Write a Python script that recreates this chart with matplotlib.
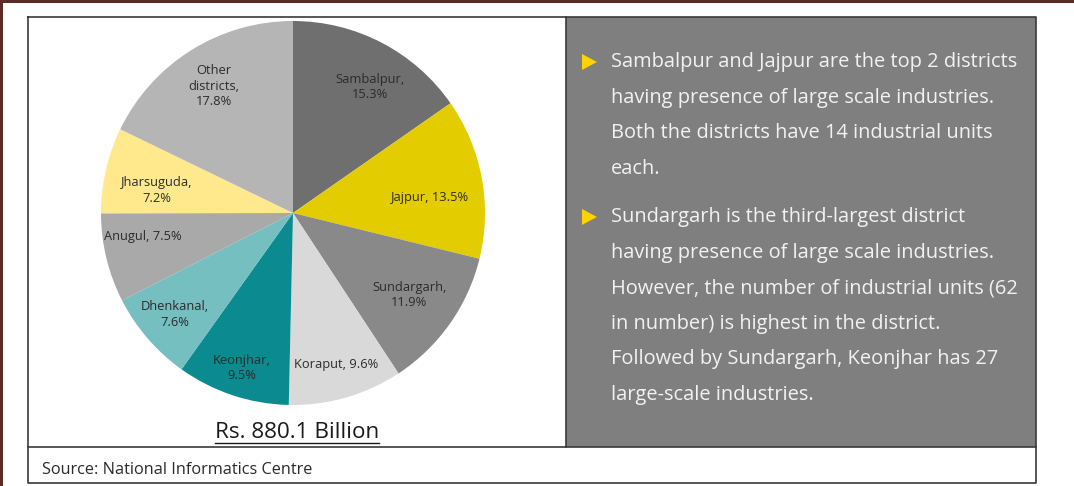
import matplotlib
matplotlib.use("Agg")
import matplotlib.pyplot as plt
from matplotlib.patches import Rectangle, Polygon
import numpy as np

# ---- data ----
districts = ["Sambalpur", "Jajpur", "Sundargarh", "Koraput", "Keonjhar",
             "Dhenkanal", "Anugul", "Jharsuguda", "Other districts"]
shares = [15.3, 13.5, 11.9, 9.6, 9.5, 7.6, 7.5, 7.2, 17.8]
label_texts = ["Sambalpur,\n15.3%", "Jajpur, 13.5%", "Sundargarh,\n11.9%",
               "Koraput, 9.6%", "Keonjhar,\n9.5%", "Dhenkanal,\n7.6%",
               "Anugul, 7.5%", "Jharsuguda,\n7.2%", "Other\ndistricts,\n17.8%"]
total_title = "Rs. 880.1 Billion"
source_text = "Source: National Informatics Centre"
bullets = [
    ["Sambalpur and Jajpur are the top 2 districts",
     "having presence of large scale industries.",
     "Both the districts have 14 industrial units",
     "each."],
    ["Sundargarh is the third-largest district",
     "having presence of large scale industries.",
     "However, the number of industrial units (62",
     "in number) is highest in the district.",
     "Followed by Sundargarh, Keonjhar has 27",
     "large-scale industries."],
]

# ---- style ----
colors = ["#6f6f6f", "#e3cc00", "#898989", "#d9d9d9", "#0b8a8f",
          "#75bfc1", "#a9a9a9", "#ffe98c", "#b5b5b5"]
label_r = [0.77, 0.72, 0.74, 0.82, 0.85, 0.81, 0.79, 0.72, 0.78]
label_dang = [-4, -4, 0, 0, 0, 0, -4.5, 3.5, 0]

W, H = 1074, 486
fig = plt.figure(figsize=(W / 100, H / 100), dpi=100)
fig.patch.set_facecolor("white")

bg = fig.add_axes([0, 0, 1, 1])
bg.set_xlim(0, W)
bg.set_ylim(H, 0)
bg.axis("off")

# outer dark border (top & left)
bg.add_patch(Rectangle((0, 0), W, 3, color="#5b2a24", lw=0))
bg.add_patch(Rectangle((0, 0), 3, H, color="#5b2a24", lw=0))

# right grey panel
bg.add_patch(Rectangle((566, 17), 1036 - 566, 447 - 17, facecolor="#7f7f7f",
                       edgecolor="none"))
# frame lines
lc = "#3a3a3a"
bg.plot([28, 1036, 1036, 28, 28], [17, 17, 483, 483, 17], color=lc, lw=1.2)
bg.plot([28, 1036], [447, 447], color=lc, lw=1.2)
bg.plot([566, 566], [17, 447], color=lc, lw=1.2)

# bullet text
font_txt = "Open Sans"
y = 62
for para in bullets:
    bg.add_patch(Polygon([[582, y - 8], [582, y + 8], [597, y]], closed=True,
                         facecolor="#ffd200", edgecolor="none"))
    for line in para:
        bg.text(611, y, line, fontsize=14.4, color="#f2f2f2", va="center",
                ha="left", family=font_txt)
        y += 35.5
    y += 13

# title and source
t = bg.text(297, 432, total_title, fontsize=16.2, color="#1a1a1a", ha="center",
            va="center", family=font_txt)
bg.text(42, 470, source_text, fontsize=11.7, color="#2a2a2a", ha="left",
        va="center", family=font_txt)

# underline title
fig.canvas.draw()
bb = t.get_window_extent(renderer=fig.canvas.get_renderer())
x0, x1 = bb.x0, bb.x1
bg.plot([x0, x1], [443, 443], color="#1a1a1a", lw=1.0)

# pie
cx, cy, R = 293, 213, 192
pax = fig.add_axes([(cx - R) / W, (H - cy - R) / H, 2 * R / W, 2 * R / H])
wedges, _ = pax.pie(shares, colors=colors, startangle=90, counterclock=False,
                    wedgeprops=dict(linewidth=0))
pax.set_xlim(-1, 1)
pax.set_ylim(-1, 1)
pax.set_aspect("equal")
for w, lab, r, da in zip(wedges, label_texts, label_r, label_dang):
    ang = np.deg2rad((w.theta1 + w.theta2) / 2 + da)
    pax.text(r * np.cos(ang), r * np.sin(ang), lab, ha="center", va="center",
             fontsize=9.3, color="#2b2b2b", family=font_txt, linespacing=1.25)

fig.savefig("out.png", dpi=100)
